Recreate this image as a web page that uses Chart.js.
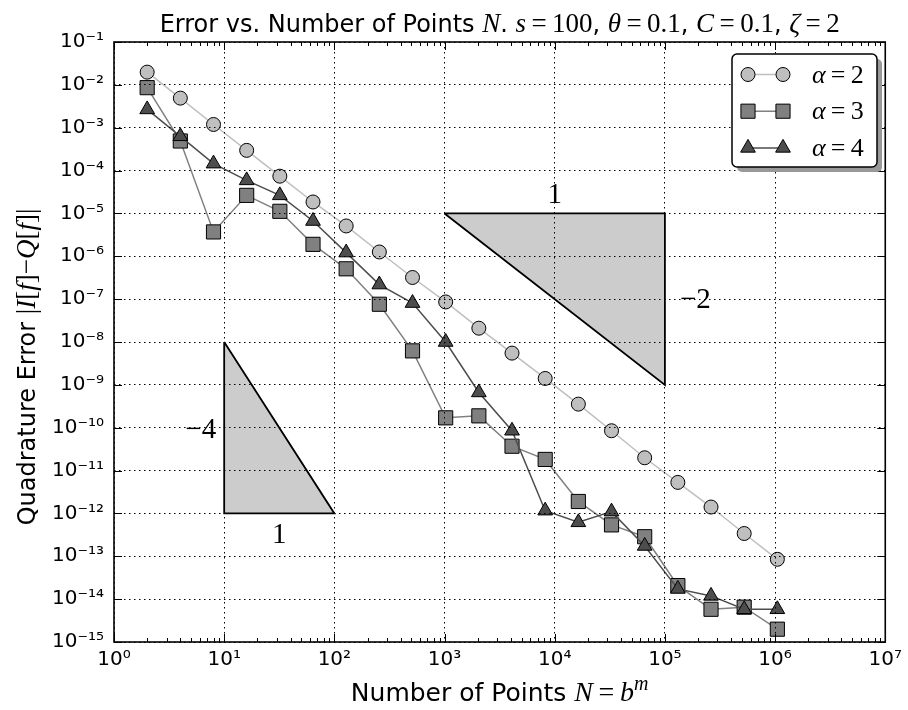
<!DOCTYPE html>
<html>
<head>
<meta charset="utf-8">
<script src="https://cdn.jsdelivr.net/npm/chart.js@4.4.1/dist/chart.umd.min.js"></script>
<style>
  html, body { margin: 0; background: #fff; }
  canvas { display: block; }
</style>
</head>
<body>
<canvas id="errChart" width="908" height="710"></canvas>
<script>
// N = b^m, b = 2, m = 1..20
const nPoints = [2, 4, 8, 16, 32, 64, 128, 256, 512, 1024, 2048, 4096, 8192,
    16384, 32768, 65536, 131072, 262144, 524288, 1048576];
const alphaValues = [2, 3, 4];

const errAlpha2 = [1.98e-2, 4.9e-3, 1.19e-3, 2.96e-4, 7.4e-5, 1.85e-5, 5.1e-6, 1.26e-6,
    3.2e-7, 8.6e-8, 2.1e-8, 5.5e-9, 1.41e-9, 3.55e-10, 8.5e-11, 1.99e-11, 5.3e-12,
    1.41e-12, 3.4e-13, 8.5e-14];
const errAlpha3 = [8.6e-3, 4.9e-4, 3.7e-6, 2.64e-5, 1.12e-5, 1.9e-6, 5.1e-7, 7.6e-8,
    6.2e-9, 1.7e-10, 1.89e-10, 3.7e-11, 1.82e-11, 1.9e-12, 5.4e-13, 2.86e-13, 2.07e-14,
    5.8e-15, 6.5e-15, 1.99e-15];
const errAlpha4 = [2.67e-3, 6.3e-4, 1.45e-4, 5.9e-5, 2.64e-5, 6.65e-6, 1.22e-6, 2.19e-7,
    8.1e-8, 1.0e-8, 6.65e-10, 8.5e-11, 1.16e-12, 6.2e-13, 1.1e-12, 1.74e-13, 1.73e-14,
    1.19e-14, 5.8e-15, 5.8e-15];

const xTickPowers = [0, 1, 2, 3, 4, 5, 6, 7];
const yTickPowers = [-15, -14, -13, -12, -11, -10, -9, -8, -7, -6, -5, -4, -3, -2, -1];

// slope triangles (closed polygons)
const slopeBigX = [1e3, 1e5, 1e5, 1e3];
const slopeBigY = [1e-5, 1e-5, 1e-9, 1e-5];
const slopeSmallX = [10, 10, 100, 10];
const slopeSmallY = [1e-8, 1e-12, 1e-12, 1e-8];

const SANS = "'DejaVu Sans'";
const SERIF = "'Liberation Serif'";

const SUP = { "-": "\u207B", "0": "\u2070", "1": "\u00B9", "2": "\u00B2", "3": "\u00B3",
    "4": "\u2074", "5": "\u2075", "6": "\u2076", "7": "\u2077", "8": "\u2078", "9": "\u2079" };

function powLabel(v) {
    const p = Math.round(Math.log10(v));
    return "10" + String(p).split("").map(c => SUP[c]).join("");
}

function toPoints(xs, ys) {
    return xs.map((x, i) => ({ x: x, y: ys[i] }));
}

function fontFor(kind, size) {
    if (kind === "s") return `${size}px ${SANS}`;
    if (kind === "i") return `italic ${Math.round(size * 1.12)}px ${SERIF}`;
    if (kind === "r") return `${Math.round(size * 1.12)}px ${SERIF}`;
    return `italic ${Math.round(size * 0.8)}px ${SERIF}`; // superscript
}

// draws a list of [text, kind] pieces on one baseline
function drawRich(ctx, parts, x, y, size, align) {
    ctx.save();
    ctx.textAlign = "left";
    ctx.textBaseline = "alphabetic";
    ctx.fillStyle = "#000";
    let total = 0;
    const widths = parts.map(p => {
        ctx.font = fontFor(p[1], size);
        const w = ctx.measureText(p[0]).width;
        total += w;
        return w;
    });
    let cx = align === "center" ? x - total / 2 : (align === "right" ? x - total : x);
    parts.forEach((p, i) => {
        ctx.font = fontFor(p[1], size);
        ctx.fillText(p[0], cx, p[1] === "u" ? y - size * 0.45 : y);
        cx += widths[i];
    });
    ctx.restore();
}

const EQ = "\u2009=\u2009";

const titleParts = [["Error vs. Number of Points ", "s"], ["N", "i"], [". ", "s"],
    ["s", "i"], [EQ + "100", "r"], [", ", "s"], ["\u03B8", "i"], [EQ + "0.1", "r"],
    [", ", "s"], ["C", "i"], [EQ + "0.1", "r"], [", ", "s"], ["\u03B6", "i"], [EQ + "2", "r"]];
const xTitleParts = [["Number of Points ", "s"], ["N", "i"], [EQ, "r"], ["b", "i"], ["m", "u"]];
const yTitleParts = [["Quadrature Error ", "s"], ["|", "r"], ["I", "i"], ["[", "r"], ["f", "i"],
    ["]", "r"], ["\u2212", "r"], ["Q", "i"], ["[", "r"], ["f", "i"], ["]|", "r"]];

const textPlugin = {
    id: "richTexts",
    afterDraw(chart) {
        const { ctx, chartArea: a, scales: { x, y } } = chart;
        const mid = (a.left + a.right) / 2;
        drawRich(ctx, titleParts, mid, 32, 24, "center");
        drawRich(ctx, xTitleParts, mid, 701, 25, "center");
        ctx.save();
        ctx.translate(35, (a.top + a.bottom) / 2 + 25);
        ctx.rotate(-Math.PI / 2);
        drawRich(ctx, yTitleParts, 0, 0, 24, "center");
        ctx.restore();

        // slope labels
        const f = 26;
        drawRich(ctx, [["1", "r"]], x.getPixelForValue(1e4), y.getPixelForValue(1e-5) - 10, f, "center");
        drawRich(ctx, [["\u22122", "r"]], x.getPixelForValue(1e5) + 15, y.getPixelForValue(1e-7) + 9, f, "left");
        drawRich(ctx, [["\u22124", "r"]], x.getPixelForValue(10) - 8, y.getPixelForValue(1e-10) + 10, f, "right");
        drawRich(ctx, [["1", "r"]], x.getPixelForValue(Math.sqrt(1000)), y.getPixelForValue(1e-12) + 30, f, "center");
    }
};

const frameTicks = {
    id: "frameTicks",
    afterDraw(chart) {
        const { ctx, chartArea: a, scales: { x, y } } = chart;
        ctx.save();
        ctx.strokeStyle = "#000";
        ctx.lineWidth = 1;
        ctx.beginPath();
        xTickPowers.forEach((p, i) => {
            const px = Math.round(x.getPixelForValue(10 ** p)) + 0.5;
            ctx.moveTo(px, a.bottom); ctx.lineTo(px, a.bottom - 8);
            ctx.moveTo(px, a.top); ctx.lineTo(px, a.top + 8);
            if (i === xTickPowers.length - 1) return;
            for (let m = 2; m < 10; m++) {
                const mx = Math.round(x.getPixelForValue(m * 10 ** p)) + 0.5;
                ctx.moveTo(mx, a.bottom); ctx.lineTo(mx, a.bottom - 4);
                ctx.moveTo(mx, a.top); ctx.lineTo(mx, a.top + 4);
            }
        });
        yTickPowers.forEach(p => {
            const py = Math.round(y.getPixelForValue(10 ** p)) + 0.5;
            ctx.moveTo(a.left, py); ctx.lineTo(a.left + 8, py);
            ctx.moveTo(a.right, py); ctx.lineTo(a.right - 8, py);
        });
        ctx.stroke();
        ctx.lineWidth = 1.6;
        ctx.strokeRect(a.left, a.top, a.width, a.height);
        ctx.restore();
    }
};

const legendBox = {
    id: "legendBox",
    afterDraw(chart) {
        const ctx = chart.ctx;
        const bx = 732, by = 54, bw = 145, bh = 113;
        ctx.save();
        ctx.fillStyle = "#999999";
        ctx.beginPath();
        ctx.roundRect(bx + 5, by + 5, bw, bh, 5);
        ctx.fill();
        ctx.fillStyle = "#fff";
        ctx.strokeStyle = "#000";
        ctx.lineWidth = 1.5;
        ctx.beginPath();
        ctx.roundRect(bx, by, bw, bh, 5);
        ctx.fill();
        ctx.stroke();

        chart.data.datasets.filter(d => d.isSeries).forEach((d, i) => {
            const ly = by + 20.5 + i * 36.7;
            ctx.strokeStyle = d.borderColor;
            ctx.lineWidth = d.borderWidth;
            ctx.beginPath();
            ctx.moveTo(748, ly); ctx.lineTo(783, ly);
            ctx.stroke();
            [748, 783].forEach(px => {
                ctx.fillStyle = d.pointBackgroundColor;
                ctx.strokeStyle = d.pointBorderColor;
                ctx.lineWidth = d.pointBorderWidth;
                Chart.helpers.drawPoint(ctx, { pointStyle: d.pointStyle, radius: d.pointRadius,
                    borderWidth: d.pointBorderWidth, rotation: 0 }, px, ly);
            });
            drawRich(ctx, [["\u03B1", "i"], [EQ + alphaValues[i], "r"]], 812, ly + 8, 23, "left");
        });
        ctx.restore();
    }
};

function series(label, ys, color, style, radius, order) {
    return {
        label: label,
        isSeries: true,
        data: toPoints(nPoints, ys),
        showLine: true,
        borderColor: color,
        borderWidth: 1.5,
        pointStyle: style,
        pointRadius: radius,
        pointBackgroundColor: color,
        pointBorderColor: "#000",
        pointBorderWidth: 1,
        order: order
    };
}

function slope(xs, ys) {
    return {
        data: toPoints(xs, ys),
        showLine: true,
        borderColor: "#000",
        borderWidth: 1.8,
        backgroundColor: "#cccccc",
        fill: "shape",
        pointRadius: 0,
        tension: 0,
        order: 10
    };
}

new Chart(document.getElementById("errChart"), {
    type: "scatter",
    data: {
        datasets: [
            series("\u03B1 = " + alphaValues[0], errAlpha2, "#bfbfbf", "circle", 7, 3),
            series("\u03B1 = " + alphaValues[1], errAlpha3, "#808080", "rect", 10, 2),
            series("\u03B1 = " + alphaValues[2], errAlpha4, "#4d4d4d", "triangle", 8.5, 1),
            slope(slopeBigX, slopeBigY),
            slope(slopeSmallX, slopeSmallY)
        ]
    },
    options: {
        responsive: false,
        animation: false,
        layout: { padding: { top: 42, right: 17, left: 0, bottom: 0 } },
        plugins: {
            legend: { display: false },
            tooltip: { enabled: false },
            title: { display: false }
        },
        scales: {
            x: {
                type: "logarithmic",
                min: 1,
                max: 1e7,
                afterBuildTicks: s => { s.ticks = xTickPowers.map(p => ({ value: 10 ** p })); },
                afterFit: s => { s.height = 68; },
                ticks: {
                    callback: v => powLabel(v),
                    font: { family: "DejaVu Sans", size: 20 },
                    color: "#000",
                    padding: 6,
                    maxRotation: 0,
                    autoSkip: false
                },
                grid: { color: "#000", lineWidth: 1, drawTicks: false, z: 1 },
                border: { display: false, dash: [1.5, 3.5] }
            },
            y: {
                type: "logarithmic",
                min: 1e-15,
                max: 1e-1,
                afterBuildTicks: s => { s.ticks = yTickPowers.map(p => ({ value: 10 ** p })); },
                afterFit: s => { s.width = 114; },
                ticks: {
                    callback: v => powLabel(v),
                    font: { family: "DejaVu Sans", size: 20 },
                    color: "#000",
                    padding: 10,
                    autoSkip: false
                },
                grid: { color: "#000", lineWidth: 1, drawTicks: false, z: 1 },
                border: { display: false, dash: [1.5, 3.5] }
            }
        }
    },
    plugins: [frameTicks, legendBox, textPlugin]
});
</script>
</body>
</html>
